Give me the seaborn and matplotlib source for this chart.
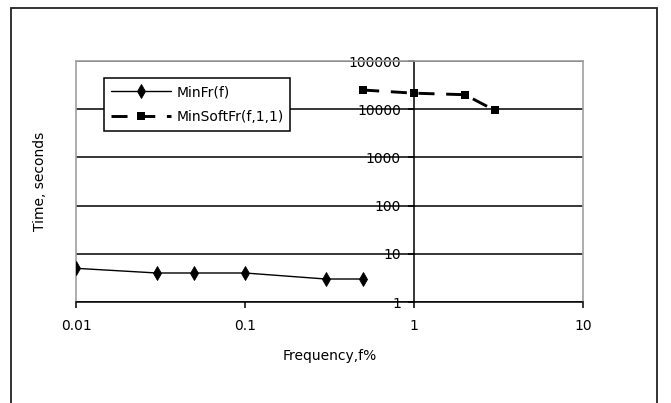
import matplotlib
matplotlib.use("Agg")
import matplotlib.pyplot as plt
import matplotlib.ticker as mticker
from matplotlib.patches import Rectangle
import seaborn as sns

# data
minfr_f = [0.01, 0.03, 0.05, 0.1, 0.3, 0.5]
minfr_t = [5, 4, 4, 4, 3, 3]
minsoft_f = [0.5, 1, 2, 3]
minsoft_t = [25000, 21500, 20000, 9500]

x_ticks = [0.01, 0.1, 1, 10]
x_tick_labels = ["0.01", "0.1", "1", "10"]
y_ticks = [1, 10, 100, 1000, 10000, 100000]
y_tick_labels = ["1", "10", "100", "1000", "10000", "100000"]

sns.set_style("white")
plt.rcParams['font.family'] = ['DejaVu Sans']
plt.rcParams['font.size'] = 10
for key in ["text.color", "axes.labelcolor", "xtick.color", "ytick.color"]:
    plt.rcParams[key] = "black"

fig = plt.figure(figsize=(6.71, 4.03), dpi=100)
ax = fig.add_axes([0.1133, 0.2506, 0.7556, 0.598])

sns.lineplot(x=minfr_f, y=minfr_t, ax=ax, color="black", linewidth=1,
             marker="d", markersize=7, markeredgewidth=0.6,
             markeredgecolor="black", label="MinFr(f)")
sns.lineplot(x=minsoft_f, y=minsoft_t, ax=ax, color="black", linewidth=2.1,
             linestyle=(0, (5.5, 4)), marker="s", markersize=5.2,
             markeredgewidth=0, label="MinSoftFr(f,1,1)")

ax.set_xscale("log")
ax.set_yscale("log")
ax.set_xlim(0.01, 10)
ax.set_ylim(1, 100000)

ax.xaxis.set_major_locator(mticker.FixedLocator(x_ticks))
ax.xaxis.set_major_formatter(mticker.FixedFormatter(x_tick_labels))
ax.yaxis.set_major_locator(mticker.FixedLocator(y_ticks))
ax.yaxis.set_major_formatter(mticker.FixedFormatter(y_tick_labels))
ax.xaxis.set_minor_locator(mticker.NullLocator())
ax.yaxis.set_minor_locator(mticker.NullLocator())

# horizontal grid only
ax.set_axisbelow(True)
ax.yaxis.grid(True, color="black", linewidth=1.1)
ax.xaxis.grid(False)

# excel style: value axis crosses at x = 1
ax.spines["left"].set_position(("data", 1))
ax.spines["left"].set_color("black")
ax.spines["left"].set_linewidth(1.1)
ax.spines["bottom"].set_color("black")
ax.spines["bottom"].set_linewidth(1.1)
for side in ["top", "right"]:
    ax.spines[side].set_color("#a0a0a0")
    ax.spines[side].set_linewidth(1.2)
ax.axvline(0.01, color="#a0a0a0", linewidth=1.2, clip_on=False, zorder=0.6)

ax.tick_params(axis="x", direction="out", length=4, width=1.1, color="black",
               pad=8, labelsize=10, bottom=True)
ax.tick_params(axis="y", direction="out", length=4.5, width=1.1, color="black",
               pad=5, labelsize=10, left=True)

ax.set_xlabel("Frequency,f%", va="center")
ax.xaxis.set_label_coords(0.5, -0.224)
ax.set_ylabel("Time, seconds", va="center")
ax.yaxis.set_label_coords(-0.071, 0.5)

leg = ax.legend(loc="upper left", bbox_to_anchor=(0.0552, 0.929),
                borderaxespad=0, fancybox=False, framealpha=1,
                edgecolor="black", handlelength=4.3, handletextpad=0.4,
                labelspacing=0.8, borderpad=0.5, fontsize=10)
leg.get_frame().set_linewidth(1.1)

# outer chart border (bottom edge falls outside the picture)
fig.add_artist(Rectangle((0.0164, -0.05), 0.963, 1.029, transform=fig.transFigure,
                         fill=False, edgecolor="#222222", linewidth=1.3))

fig.savefig("out.png", dpi=100)
